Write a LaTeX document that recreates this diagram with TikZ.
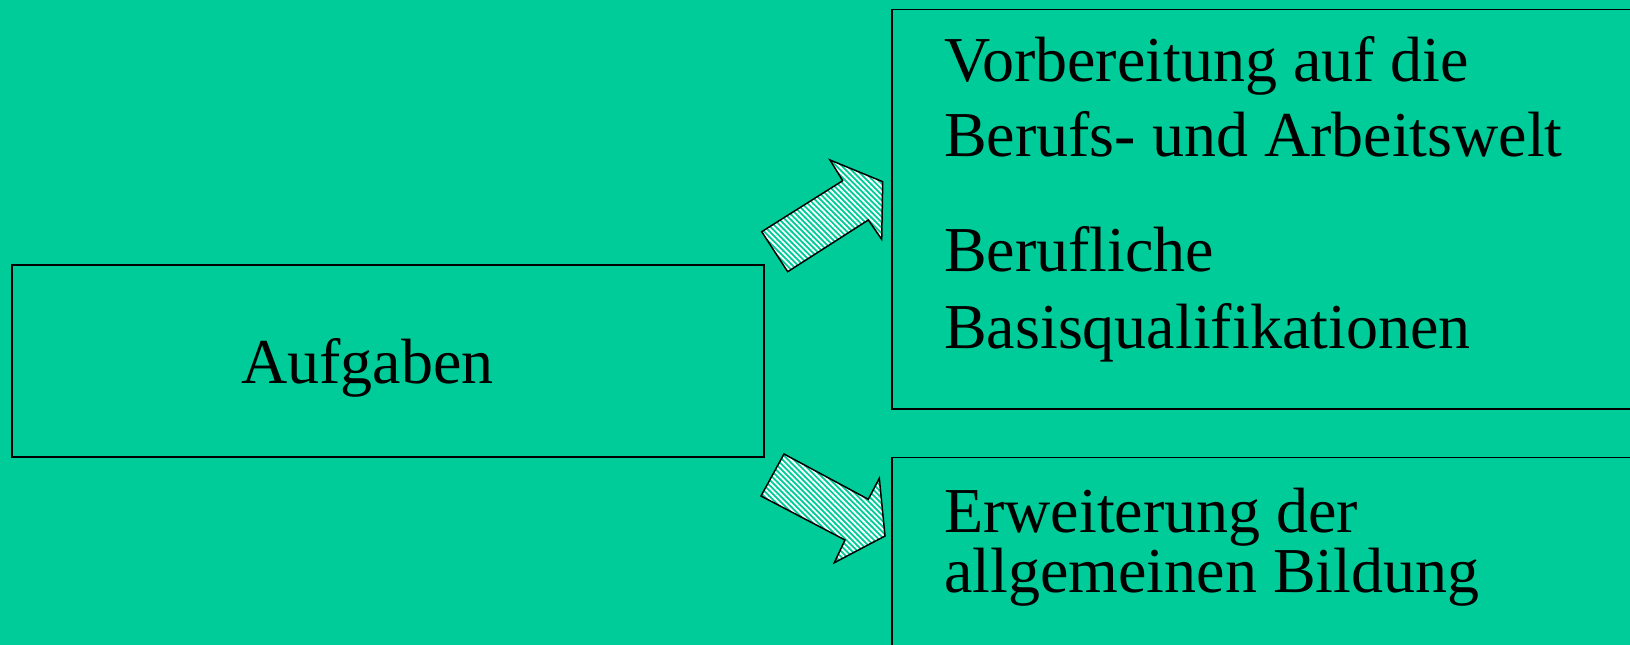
\documentclass[tikz,border=0pt]{standalone}
\usepackage{fontspec}
\setmainfont{Liberation Serif}
\usetikzlibrary{patterns.meta}
\definecolor{bg}{HTML}{00CC99}
\begin{document}
\begin{tikzpicture}[x=1pt,y=-1pt,
  box/.style={draw=black, line width=1.8pt, inner sep=0pt, outer sep=0pt, anchor=north west},
  txt/.style={anchor=base west, inner sep=0pt, font=\fontsize{64}{64}\selectfont},
  blockarrow/.style={draw=black, line width=1.5pt, line join=miter,
    pattern={Lines[angle=-45, distance=3.9pt, line width=1.8pt]}, pattern color=white}]
  \fill[bg] (0,0) rectangle (1630,645);
  \useasboundingbox (0,0) rectangle (1630,645);
  \clip (0,0) rectangle (1630,645);
  % boxes
  \node[box, minimum width=752pt, minimum height=192pt] (left) at (12,265) {};
  \node[box, minimum width=760pt, minimum height=399.5pt] (topright) at (892,9.5) {};
  \node[box, minimum width=760pt, minimum height=220pt] (botright) at (892,457.5) {};
  % texts
  \node[txt] (auf) at (241,383.3) {Aufgaben};
  \node[txt] (t1) at (944,81) {Vorbereitung auf die};
  \node[txt] (t2) at (944,156.7) {Berufs- und Arbeitswelt};
  \node[txt] (t3) at (944,271.7) {Berufliche};
  \node[txt] (t4) at (944,348.3) {Basisqualifikationen};
  \node[txt] (t5) at (944,532.3) {Erweiterung der};
  \node[txt] (t6) at (944,592.7) {allgemeinen Bildung};
  % block arrows
  \draw[blockarrow] (761.7,231.7) -- (787.7,271.7) -- (868.3,220) -- (881.7,239.3)
     -- (882.7,181.7) -- (830,160) -- (842.7,180.7) -- cycle;
  \draw[blockarrow] (784,454) -- (868.3,499.3) -- (879.3,478.3) -- (885,536)
     -- (834.3,562.7) -- (845,540) -- (761,496) -- cycle;
\end{tikzpicture}
\end{document}
